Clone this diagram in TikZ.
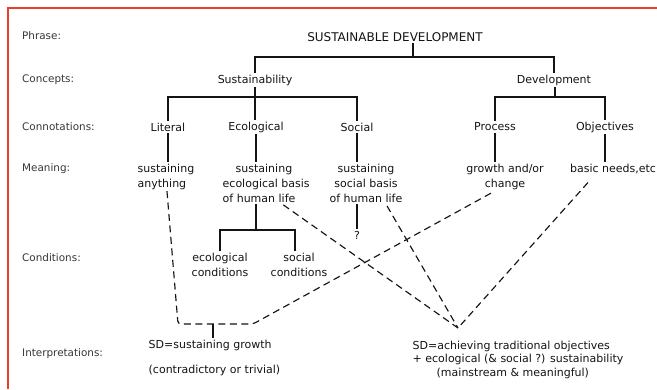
\documentclass[tikz,border=0pt]{standalone}
\usepackage{fontspec}
\setmainfont{DejaVu Sans}
\usetikzlibrary{calc}
\definecolor{frame}{RGB}{232,64,40}
\definecolor{ink}{RGB}{20,20,20}
\definecolor{lab}{RGB}{55,55,55}
\begin{document}
\begin{tikzpicture}[x=1pt,y=-1pt,
  txt/.style={inner sep=1.5pt, text=ink, font=\fontsize{11}{15}\selectfont},
  lbl/.style={anchor=west, inner sep=0pt, text=lab, font=\fontsize{10.4}{13}\selectfont},
  tree/.style={draw=ink, line width=1.15pt},
  dsh/.style={draw=ink, line width=1.15pt, dash pattern=on 7pt off 4.5pt},
  ]
\useasboundingbox (0,0) rectangle (657,389);
\fill[white] (0,0) rectangle (657,389);
\draw[frame, line width=2.8pt] (8,389) -- (8,8) -- (657,8);

% row labels
\node[lbl] (lphr) at (22,36) {Phrase:};
\node[lbl] (lcon) at (22,80) {Concepts:};
\node[lbl] (lcnn) at (22,127) {Connotations:};
\node[lbl] (lmea) at (22,169) {Meaning:};
\node[lbl] (lcnd) at (22,258) {Conditions:};
\node[lbl] (lint) at (22,354) {Interpretations:};

% tree nodes
\node[txt, font=\fontsize{12}{15}\selectfont] (sd) at (395,37) {SUSTAINABLE DEVELOPMENT};
\node[txt] (sus) at (255,80) {Sustainability};
\node[txt] (dev) at (554,80) {Development};
\node[txt] (lit) at (168,127) {Literal};
\node[txt] (eco) at (256,127) {Ecological};
\node[txt] (soc) at (357,127) {Social};
\node[txt] (pro) at (495,127) {Process};
\node[txt] (obj) at (605,127) {Objectives};

\node[txt, anchor=north west, align=left] (m1) at (136,162) {sustaining\\anything};
\node[txt, anchor=north west, align=left] (m2) at (221,162) {\hspace*{13pt}sustaining\\ecological basis\\of human life};
\node[txt, anchor=north, align=center] (m3) at (366,162) {sustaining\\social basis\\of human life};
\node[txt, anchor=north, align=center] (m4) at (505,162) {growth and/or\\change};
\node[txt] (m5) at (613,169) {basic needs,etc};

\node[txt] (q) at (357,235) {?};
\node[txt, anchor=north, align=center] (c1) at (220,251) {ecological\\conditions};
\node[txt, anchor=north, align=center] (c2) at (299,251) {social\\conditions};

\node[txt, anchor=north west, align=left] (i1) at (147,338) {SD=sustaining growth\\[10pt](contradictory or trivial)};
\node[txt, anchor=north west, align=left, font=\fontsize{11}{13.6}\selectfont] (i2) at (411,339)
  {SD=achieving traditional objectives\\+ ecological (\& social ?) sustainability\\\hspace*{24pt}(mainstream \& meaningful)};

% solid tree connectors
\coordinate (j1) at (413,57);
\coordinate (j2) at (255,97);
\coordinate (j3) at (555,97);
\coordinate (j4) at (256,230);
\draw[tree] (j1 |- sd.south) -- (j1);
\draw[tree] (sus.north) |- (j1) -| (dev.north);
\draw[tree] (sus.south) -- (sus.south |- eco.north);
\draw[tree] (lit.north) |- (j2) -| (soc.north);
\draw[tree] (dev.south -| j3) -- (j3);
\draw[tree] (pro.north) |- (j3) -| (obj.north);
\draw[tree] (lit.south) -- (lit.south |- m1.north);
\draw[tree] (eco.south) -- (eco.south |- m2.north);
\draw[tree] (soc.south) -- (soc.south |- m3.north);
\draw[tree] (pro.south) -- (pro.south |- m4.north);
\draw[tree] (obj.south) -- (obj.south |- m5.north);
\draw[tree] (j4 |- m2.south) -- (j4);
\draw[tree] (c1.north) |- (j4) -| ([xshift=-4pt]c2.north);
\draw[tree] (q.north |- m3.south) -- (q.north);

% dashed interpretation links
\coordinate (k1) at (178,324);
\coordinate (k2) at (253,324);
\coordinate (k3) at (213,324);
\coordinate (v) at (458,328);
\draw[dsh, rounded corners=3pt] ([xshift=1pt]m1.south) -- (k1) -- (k2) -- ([xshift=-12pt,yshift=-1pt]m4.south);
\draw[tree] (k3) -- (k3 |- i1.north);
\draw[dsh] ([xshift=-28pt,yshift=-1pt]m2.south east) -- (v);
\draw[dsh] ([xshift=21pt,yshift=-2pt]m3.south) -- (v);
\draw[dsh] ([xshift=-25pt,yshift=-7pt]m5.south) -- (v);
\end{tikzpicture}
\end{document}
